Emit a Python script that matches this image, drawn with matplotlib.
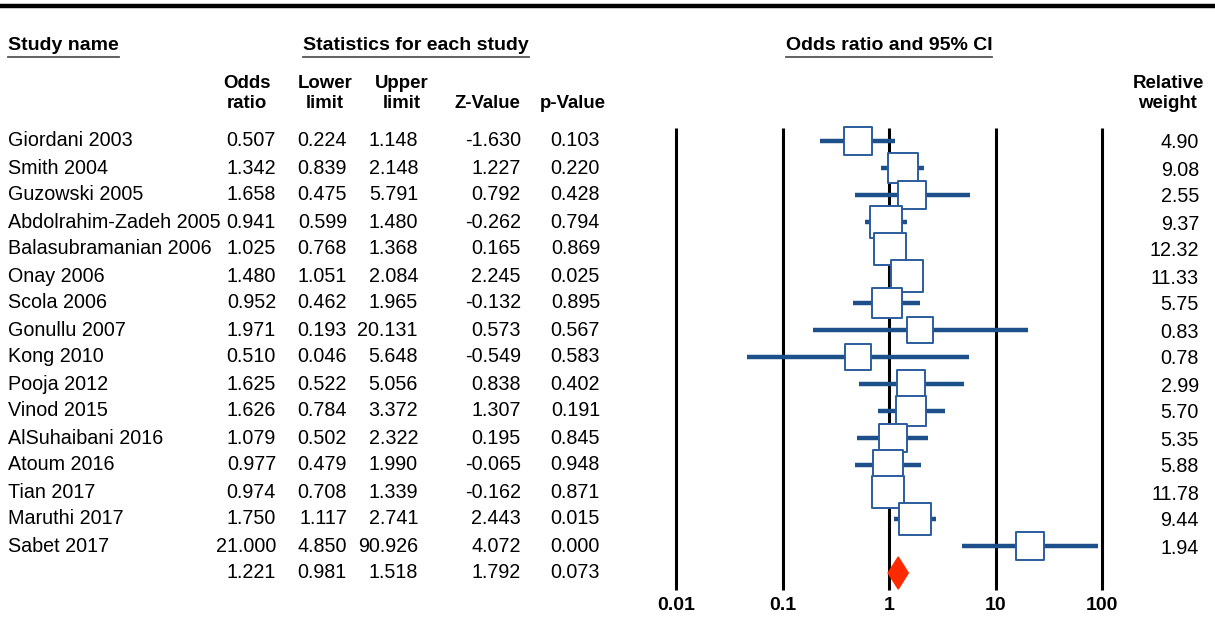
import numpy as np
import matplotlib.pyplot as plt

plt.rcParams['font.family'] = ['Liberation Sans', 'DejaVu Sans']

studies = ["Giordani 2003", "Smith 2004", "Guzowski 2005", "Abdolrahim-Zadeh 2005",
           "Balasubramanian 2006", "Onay 2006", "Scola 2006", "Gonullu 2007",
           "Kong 2010", "Pooja 2012", "Vinod 2015", "AlSuhaibani 2016",
           "Atoum 2016", "Tian 2017", "Maruthi 2017", "Sabet 2017"]
odds = [0.507, 1.342, 1.658, 0.941, 1.025, 1.480, 0.952, 1.971,
        0.510, 1.625, 1.626, 1.079, 0.977, 0.974, 1.750, 21.000]
lower = [0.224, 0.839, 0.475, 0.599, 0.768, 1.051, 0.462, 0.193,
         0.046, 0.522, 0.784, 0.502, 0.479, 0.708, 1.117, 4.850]
upper = [1.148, 2.148, 5.791, 1.480, 1.368, 2.084, 1.965, 20.131,
         5.648, 5.056, 3.372, 2.322, 1.990, 1.339, 2.741, 90.926]
zval = [-1.630, 1.227, 0.792, -0.262, 0.165, 2.245, -0.132, 0.573,
        -0.549, 0.838, 1.307, 0.195, -0.065, -0.162, 2.443, 4.072]
pval = [0.103, 0.220, 0.428, 0.794, 0.869, 0.025, 0.895, 0.567,
        0.583, 0.402, 0.191, 0.845, 0.948, 0.871, 0.015, 0.000]
weight = [4.90, 9.08, 2.55, 9.37, 12.32, 11.33, 5.75, 0.83,
          0.78, 2.99, 5.70, 5.35, 5.88, 11.78, 9.44, 1.94]
summary = [1.221, 0.981, 1.518, 1.792, 0.073]
ticks = [0.01, 0.1, 1, 10, 100]

W, H = 1215, 621
row0, step = 141, 27
fs = 14.2
hfs = 14
cfs = 13.4
line_col = '#1d4f8a'
box_col = '#2b5c9c'

fig = plt.figure(figsize=(W / 100, H / 100), dpi=100)

# text layer in pixel coordinates
tx = fig.add_axes([0, 0, 1, 1])
tx.set_xlim(0, W)
tx.set_ylim(H, 0)
tx.axis('off')

# forest plot layer, same vertical pixel scale, log odds on x
fx0, fx1 = 676, 1102
fa = fig.add_axes([fx0 / W, 0, (fx1 - fx0) / W, 1])
fa.set_xscale('log')
fa.set_xlim(ticks[0], ticks[-1])
fa.set_ylim(H, 0)
fa.axis('off')

tx.plot([0, W], [6, 6], color='black', lw=3.2, solid_capstyle='butt')

heads = [("Study name", 8, 'left'), ("Statistics for each study", 416, 'center'),
         ("Odds ratio and 95% CI", 889, 'center')]
fig.canvas.draw()
r = fig.canvas.get_renderer()
for label, x, ha in heads:
    t = tx.text(x, 45, label, fontsize=hfs, fontweight='bold', ha=ha, va='center')
    bb = t.get_window_extent(r)
    tx.plot([bb.x0, bb.x1], [57, 57], color='#555555', lw=1.3)

cols = [(247, "Odds", "ratio"), (325, "Lower", "limit"), (402, "Upper", "limit"),
        (487, "", "Z-Value"), (573, "", "p-Value"), (1168, "Relative", "weight")]
for x, a, b in cols:
    tx.text(x, 84, a, fontsize=cfs, fontweight='bold', ha='center', va='center')
    tx.text(x, 103, b, fontsize=cfs, fontweight='bold', ha='center', va='center')

for i, name in enumerate(studies):
    y = row0 + i * step
    tx.text(8, y, name, fontsize=fs, va='center')
    for x, v in zip([276, 347, 418, 521, 600],
                    [odds[i], lower[i], upper[i], zval[i], pval[i]]):
        tx.text(x, y, f"{v:.3f}", fontsize=fs, ha='right', va='center')
    tx.text(1199, y + 2, f"{weight[i]:.2f}", fontsize=fs, ha='right', va='center')

ys = row0 + len(studies) * step
for x, v in zip([276, 347, 418, 521, 600], summary):
    tx.text(x, ys, f"{v:.3f}", fontsize=fs, ha='right', va='center')

fa.vlines(ticks, 128, 590, color='black', lw=2.2, clip_on=False)
for t in ticks:
    fa.text(t, 605, f"{t:g}", fontsize=hfs, fontweight='bold', ha='center', va='center')

for i in range(len(studies)):
    y = row0 + i * step
    fa.plot([lower[i], upper[i]], [y, y], color=line_col, lw=3.2, solid_capstyle='butt',
            zorder=2, clip_on=False)
    side = 26 + 0.55 * weight[i]
    fa.scatter([odds[i]], [y], marker='s', s=(side * 0.72) ** 2, facecolor='white',
               edgecolor=box_col, linewidth=1.4, zorder=3, clip_on=False)

est, lo, hi = summary[0], summary[1], summary[2]
fa.fill([lo, est, hi, est], [ys, ys - 16, ys, ys + 16], color='#ff2a00', zorder=4)

fig.savefig('out.png', dpi=100)
